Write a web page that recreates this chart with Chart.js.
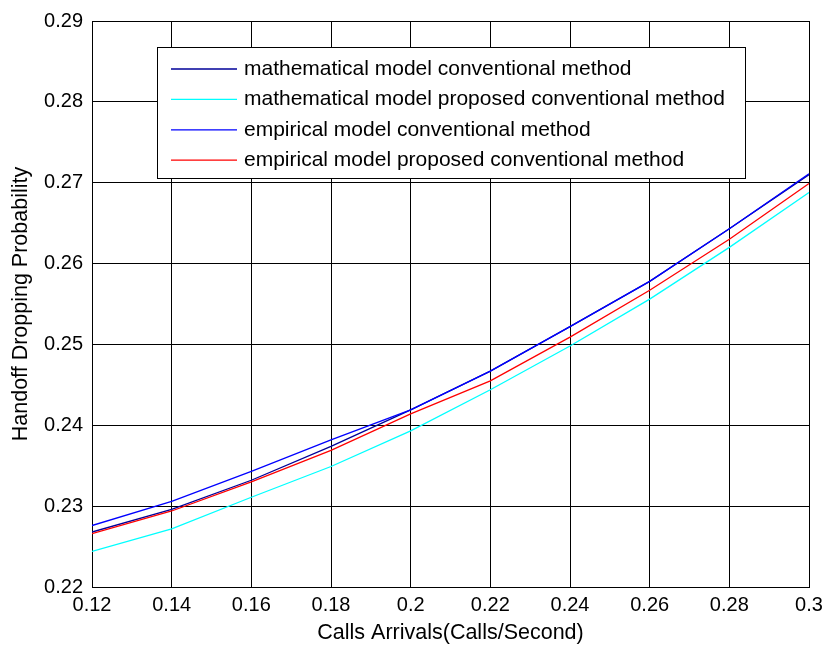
<!DOCTYPE html>
<html>
<head>
<meta charset="utf-8">
<script src="https://cdn.jsdelivr.net/npm/chart.js@4.4.0/dist/chart.umd.min.js"></script>
<style>
html,body{margin:0;padding:0;background:#fff;}
#wrap{width:830px;height:646px;}
</style>
</head>
<body>
<div id="wrap"><canvas id="c" width="830" height="646"></canvas></div>
<script>
const callArrivals = [0.12, 0.14, 0.16, 0.18, 0.20, 0.22, 0.24, 0.26, 0.28, 0.30];
const mathConventional = [0.2268, 0.2296, 0.2332, 0.2374, 0.2419, 0.2467, 0.2522, 0.2578, 0.2643, 0.2710];
const mathProposed     = [0.2244, 0.2272, 0.2311, 0.2349, 0.2393, 0.2444, 0.2498, 0.2556, 0.2620, 0.2688];
const empConventional  = [0.2276, 0.2306, 0.2343, 0.2382, 0.2419, 0.2467, 0.2522, 0.2578, 0.2643, 0.2711];
const empProposed      = [0.2266, 0.2294, 0.2330, 0.2369, 0.2414, 0.2455, 0.2509, 0.2567, 0.2630, 0.2699];
const seriesNames = [
  'mathematical model conventional method',
  'mathematical model proposed conventional method',
  'empirical model conventional method',
  'empirical model proposed conventional method'
];
const xTitle = 'Calls Arrivals(Calls/Second)';
const yTitle = 'Handoff Dropping Probability';

const FONT = '"Liberation Sans", Arial, sans-serif';
const pts = arr => callArrivals.map((x, i) => ({x: x, y: arr[i]}));
const colors = ['#000099', '#00ffff', '#0000ff', '#ff0000'];
const allSeries = [mathConventional, mathProposed, empConventional, empProposed];

const datasets = allSeries.map((s, i) => ({
  label: seriesNames[i],
  data: pts(s),
  borderColor: colors[i],
  backgroundColor: colors[i],
  borderWidth: 1.3,
  pointRadius: 0,
  tension: 0,
  fill: false,
  order: 4 - i
}));

const overlay = {
  id: 'overlay',
  afterDraw(chart) {
    const ctx = chart.ctx;
    const ca = chart.chartArea;
    ctx.save();
    // axis titles
    ctx.fillStyle = '#000';
    ctx.font = '21.5px ' + FONT;
    ctx.textAlign = 'center';
    ctx.textBaseline = 'middle';
    ctx.fillText(xTitle, (ca.left + ca.right) / 2, 633);
    ctx.save();
    ctx.translate(21, (ca.top + ca.bottom) / 2);
    ctx.rotate(-Math.PI / 2);
    ctx.fillText(yTitle, 0, 0);
    ctx.restore();
    // legend
    const bx = 157.5, by = 47.5, bw = 588, bh = 131;
    ctx.fillStyle = '#fff';
    ctx.fillRect(bx, by, bw, bh);
    ctx.strokeStyle = '#000';
    ctx.lineWidth = 1;
    ctx.strokeRect(bx, by, bw, bh);
    ctx.font = '21px ' + FONT;
    ctx.textAlign = 'left';
    chart.data.datasets.forEach((d, i) => {
      const yy = 69 + i * 30.4;
      ctx.strokeStyle = d.borderColor;
      ctx.lineWidth = 1.3;
      ctx.beginPath();
      ctx.moveTo(171, yy);
      ctx.lineTo(237, yy);
      ctx.stroke();
      ctx.fillStyle = '#000';
      ctx.fillText(d.label, 244, yy);
    });
    ctx.restore();
  }
};

new Chart(document.getElementById('c'), {
  type: 'line',
  data: {datasets: datasets},
  options: {
    responsive: false,
    animation: false,
    events: [],
    layout: {padding: {left: 0, right: 21, top: 15, bottom: 0}},
    plugins: {legend: {display: false}, tooltip: {enabled: false}, title: {display: false}},
    scales: {
      x: {
        type: 'linear',
        min: 0.12, max: 0.30,
        afterFit(s) { s.height = 59; },
        ticks: {
          stepSize: 0.02,
          color: '#000',
          font: {family: FONT, size: 20},
          padding: 6,
          maxRotation: 0,
          autoSkip: false,
          callback: v => String(+(+v).toFixed(2))
        },
        grid: {color: '#000', lineWidth: 1, drawTicks: false},
        border: {color: '#000', width: 1}
      },
      y: {
        type: 'linear',
        min: 0.22, max: 0.29,
        afterFit(s) { s.width = 92; },
        ticks: {
          stepSize: 0.01,
          color: '#000',
          font: {family: FONT, size: 20},
          padding: 9,
          autoSkip: false,
          callback: v => (+v).toFixed(2)
        },
        grid: {color: '#000', lineWidth: 1, drawTicks: false},
        border: {color: '#000', width: 1}
      }
    }
  },
  plugins: [overlay]
});
</script>
</body>
</html>
